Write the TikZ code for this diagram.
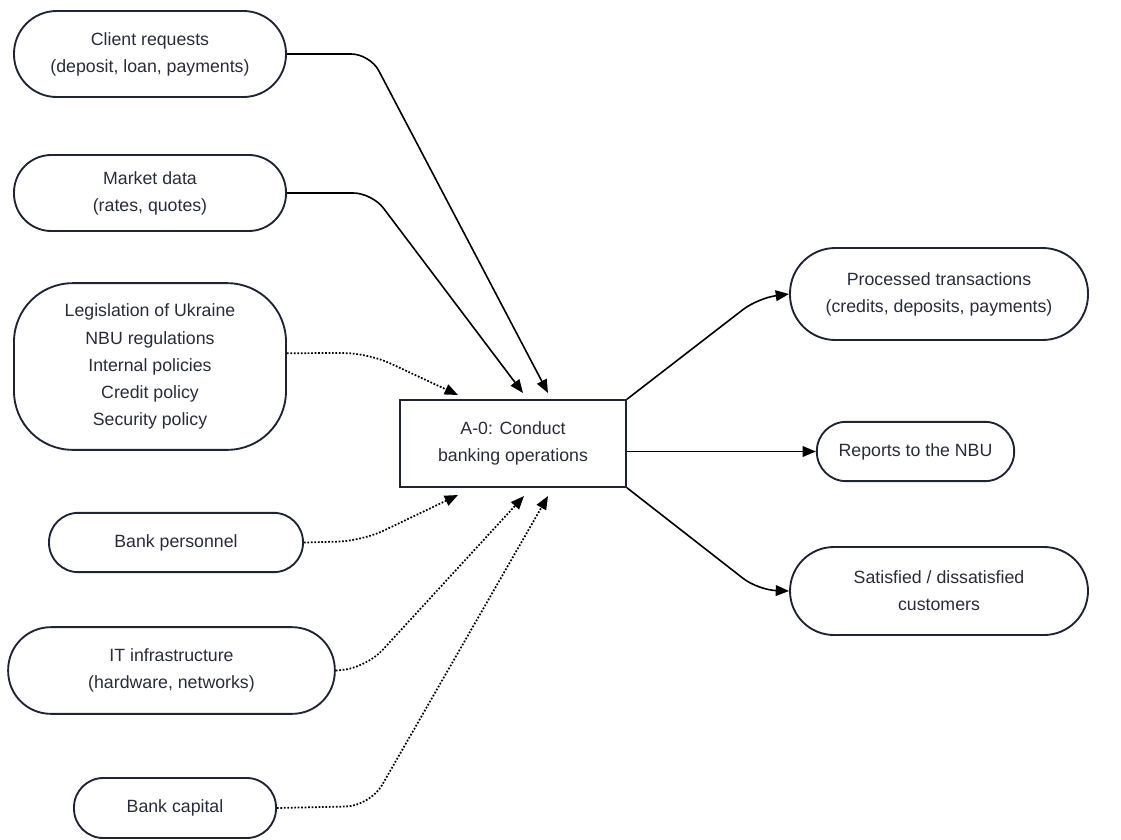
\documentclass[tikz,border=0pt]{standalone}
\usepackage{fontspec}
\setmainfont{Liberation Sans}
\usetikzlibrary{arrows.meta}
\definecolor{ink}{RGB}{30,36,52}
\definecolor{txt}{RGB}{40,44,58}
\begin{document}
\begin{tikzpicture}[x=0.75pt,y=-0.75pt,
  font=\fontsize{13.3}{20.3}\selectfont,
  pill/.style={draw=ink, line width=1.4pt, align=center, inner sep=0pt, text=txt},
  procbox/.style={draw=ink, line width=1.4pt, align=center, inner sep=0pt, text=txt,
    minimum width=169.5pt, minimum height=65pt},
  flow/.style={draw=black, line width=1.2pt, rounded corners=14pt,
    -{Triangle[length=10pt,width=8pt]}},
  ctrl/.style={draw=black, line width=1.3pt, dash pattern=on 1.3pt off 1.3pt,
    rounded corners=18pt, -{Triangle[length=10pt,width=8pt]}}
]
\useasboundingbox (0,0) rectangle (1121,839);

% inputs and resources
\node[pill, minimum width=204pt, minimum height=64.5pt, rounded corners=32pt]
  (client) at (150,54) {Client requests\\(deposit, loan, payments)};
\node[pill, minimum width=204pt, minimum height=57pt, rounded corners=28pt]
  (market) at (150,193) {Market data\\(rates, quotes)};
\node[pill, minimum width=204pt, minimum height=125pt, rounded corners=44pt]
  (law) at (150,366.5) {Legislation of Ukraine\\NBU regulations\\Internal policies\\Credit policy\\Security policy};
\node[pill, minimum width=190.5pt, minimum height=44.5pt, rounded corners=22pt]
  (staff) at (176,542.5) {Bank personnel};
\node[pill, minimum width=245pt, minimum height=65pt, rounded corners=32pt]
  (it) at (171.5,670.5) {IT infrastructure\\(hardware, networks)};
\node[pill, minimum width=151.5pt, minimum height=45pt, rounded corners=22pt]
  (capital) at (175,808) {Bank capital};

% the function
\node[procbox] (fn) at (513,443.5) {A-0: Conduct\\banking operations};

% outputs
\node[pill, minimum width=223.5pt, minimum height=69pt, rounded corners=34pt]
  (proc) at (939,294) {Processed transactions\\(credits, deposits, payments)};
\node[pill, minimum width=148pt, minimum height=44.5pt, rounded corners=22pt]
  (nbu) at (915.5,451.5) {Reports to the NBU};
\node[pill, minimum width=223.5pt, minimum height=66pt, rounded corners=33pt]
  (cust) at (939,591) {Satisfied / dissatisfied\\customers};

% arrow tip positions around the function box
\coordinate (tA) at (458,395);
\coordinate (tB) at (523,393);
\coordinate (tC) at (548,393);
\coordinate (bA) at (458,495);
\coordinate (bB) at (524,496);
\coordinate (bC) at (548,496);

% inputs
\draw[flow] (client.east) -- (370,54) -- (tC);
\draw[flow] (market.east) -- (372,193) -- (tB);

% controls and mechanisms
\draw[ctrl] ([yshift=10pt]law.east) -- (368,353) -- (tA);
\draw[ctrl] (staff.east) -- (362,541) -- (bA);
\draw[ctrl] (it.east) -- (366,668) -- (bB);
\draw[ctrl] (capital.east) -- (370,806) -- (bC);

% outputs
\draw[flow] (fn.north east) -- (758,298) -- (proc.west);
\draw[flow] (fn.east |- nbu.west) -- (nbu.west);
\draw[flow] (fn.south east) -- (758,590) -- (cust.west);
\end{tikzpicture}
\end{document}
